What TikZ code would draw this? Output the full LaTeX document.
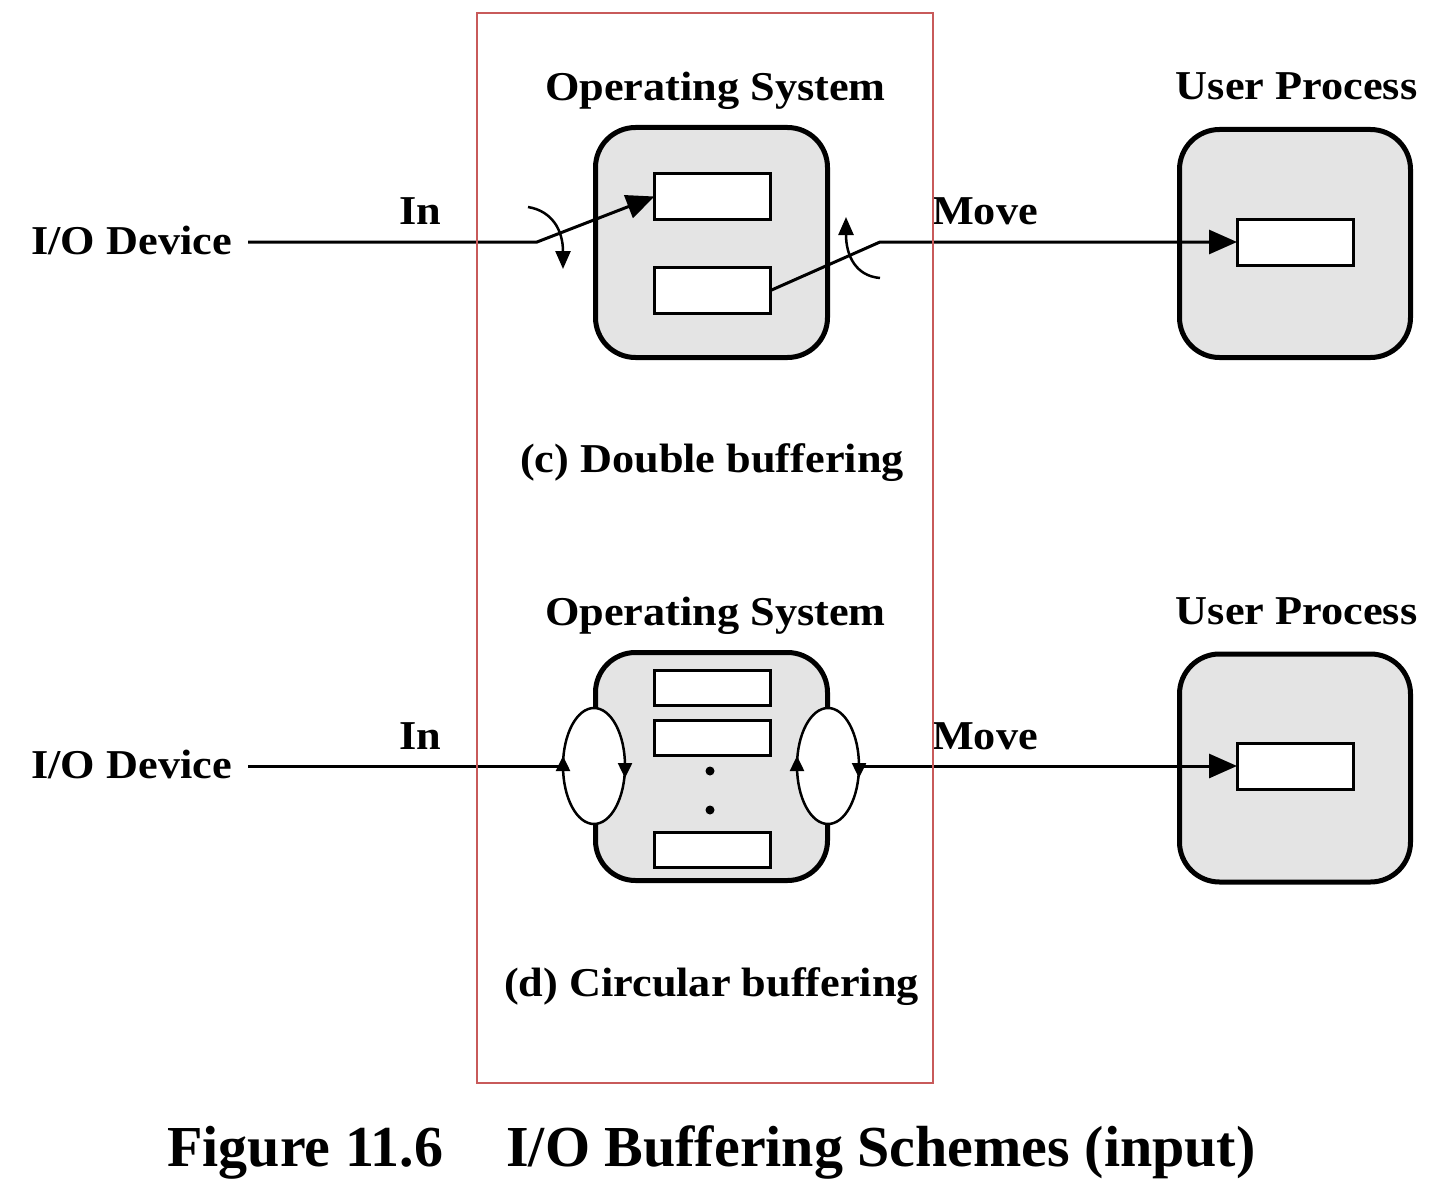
\documentclass[tikz,border=0pt]{standalone}
\usepackage{fontspec}
\setmainfont{Liberation Serif}
\newfontfamily\labfont[FakeStretch=1.08]{Liberation Serif}
\usetikzlibrary{arrows.meta,shapes.geometric,calc}
\definecolor{boxgray}{RGB}{228,228,228}
\definecolor{framered}{RGB}{200,90,90}
\begin{document}
\begin{tikzpicture}[x=1pt,y=-1pt,
  lab/.style={font=\labfont\bfseries\fontsize{41}{41}\selectfont, inner sep=0pt, anchor=base},
  osbox/.style={draw, line width=5pt, rounded corners=40pt, fill=boxgray, inner sep=0pt, outer sep=0pt, minimum width=232pt, minimum height=230pt},
  buf/.style={draw, line width=3pt, fill=white, inner sep=0pt, outer sep=0pt, minimum width=116pt, minimum height=46pt},
  conn/.style={line width=3pt},
  bigtip/.style={-{Triangle[length=28pt,width=24pt]}},
  smalltip/.style={-{Triangle[length=18pt,width=15pt]}},
  looptip/.style={line width=2.5pt,-{Triangle[length=15pt,width=14pt]}},
  loopnode/.style={ellipse, draw, line width=2.5pt, fill=white, inner sep=0pt, outer sep=0pt, minimum width=62pt, minimum height=116pt},
]
\useasboundingbox (0,0) rectangle (1436,1204);

% ---------- (c) Double buffering ----------
\node[osbox] (os1) at (711.5,242.5) {};
\node[buf] (b1) at (712.5,196.5) {};
\node[buf] (b2) at (712.5,290.5) {};
\node[osbox, minimum width=231pt, minimum height=228pt] (up1) at (1295,243.5) {};
\node[buf] (ub1) at (1295,242) {};

\node[lab] (osl1) at (715.5,101) {Operating System};
\node[lab] (upl1) at (1296.5,100) {User Process};
\node[lab, anchor=base east] (io1) at (232,254) {I/O Device};
\node[lab] (in1) at (420,225) {In};
\node[lab] (mv1) at (985,225) {Move};
\node[lab] (cap1) at (712,472) {(c) Double buffering};

\coordinate (s1) at (248,242);
\coordinate (k1) at (537,242);
\coordinate (k2) at (880,242);
\draw[conn, bigtip] (s1) -- (k1) -- (b1.west);
\draw[conn, bigtip] (b2.east) -- (k2) -- (ub1.west);

\coordinate (c1s) at (528,207);
\coordinate (c1e) at (563,269);
\draw[line width=2.5pt, smalltip] (c1s) .. controls (552,211) and (563,230) .. (c1e);
\coordinate (c2s) at (880,278);
\coordinate (c2e) at (846,217);
\draw[line width=2.5pt, smalltip] (c2s) .. controls (856,276) and (846,256) .. (c2e);

% ---------- (d) Circular buffering ----------
\node[osbox, minimum height=228pt] (os2) at (711.5,766.5) {};
\node[buf, minimum height=35pt] (r1) at (712.5,688) {};
\node[buf, minimum height=35pt] (r2) at (712.5,737.5) {};
\node[buf, minimum height=35pt] (r3) at (712.5,850) {};
\fill (710,771) circle[radius=4.5];
\fill (710,810) circle[radius=4.5];
\node[osbox, minimum width=231pt, minimum height=228pt] (up2) at (1295,768) {};
\node[buf] (ub2) at (1295,766) {};

\node[lab] (osl2) at (715.5,625) {Operating System};
\node[lab] (upl2) at (1296.5,624) {User Process};
\node[lab, anchor=base east] (io2) at (232,778) {I/O Device};
\node[lab] (in2) at (420,749) {In};
\node[lab] (mv2) at (985,749) {Move};
\node[lab] (cap2) at (711.5,996) {(d) Circular buffering};

\node[loopnode] (el1) at (594,766) {};
\node[loopnode] (el2) at (828,766) {};

\coordinate (s2) at (248,766);
\draw[conn] (s2) -- (el1.west);
\draw[conn, bigtip] (el2.east) -- (ub2.west);

\draw[looptip] ($(el1.west)+(0,6)$) -- ($(el1.west)+(0,-10)$);
\draw[looptip] ($(el1.east)+(0,-5)$) -- ($(el1.east)+(0,12)$);
\draw[looptip] ($(el2.west)+(0,6)$) -- ($(el2.west)+(0,-10)$);
\draw[looptip] ($(el2.east)+(0,-5)$) -- ($(el2.east)+(0,12)$);

% ---------- frame and caption ----------
\draw[framered, line width=1.3pt] (477,13) rectangle (933,1083);
\node[font=\bfseries\fontsize{58}{58}\selectfont, inner sep=0pt, anchor=base] (fig) at (711.5,1166)
  {Figure 11.6\hspace{63pt}I/O Buffering Schemes (input)};
\end{tikzpicture}
\end{document}
